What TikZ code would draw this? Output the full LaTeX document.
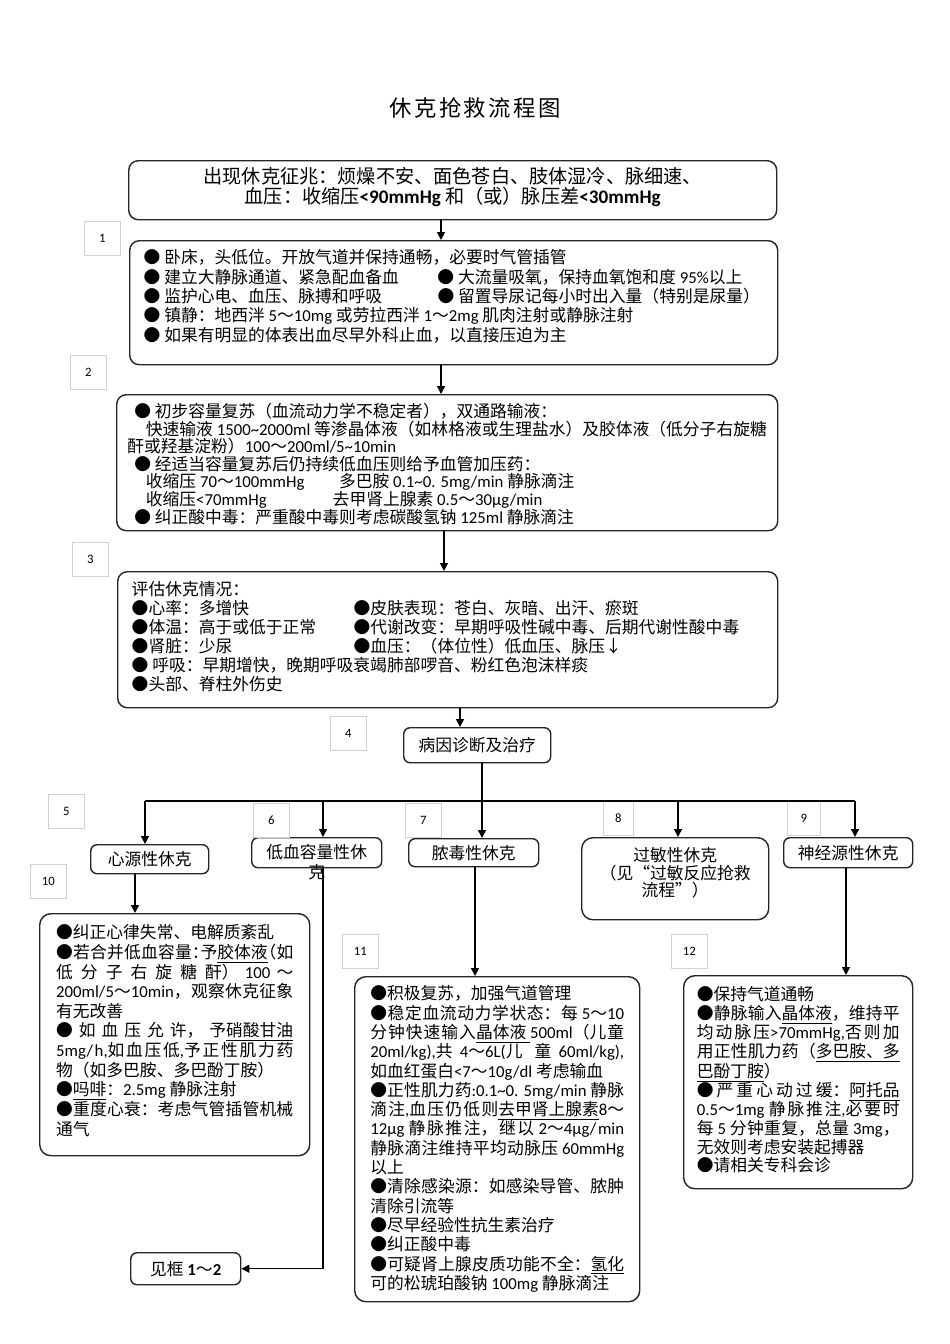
\documentclass[tikz,border=0pt]{standalone}
\usepackage{fontspec}
\setmainfont{Carlito}
\newfontfamily\cjk{Noto Sans CJK SC}
\newfontfamily\titlefont{Noto Sans CJK SC}[LetterSpace=11]
\usetikzlibrary{arrows.meta}
\newdimen\pxu \pxu=0.6263pt
\lineskiplimit=-20pt
\adjdemerits=0

% Chinese characters are set in \cjk, the rest in Carlito
\XeTeXlinebreaklocale "zh"
\XeTeXlinebreakskip=0pt plus 4pt
\newXeTeXintercharclass\CJKcls
\newcount\cjkcnt
\newcommand\cjkrange[2]{\cjkcnt=#1\relax
  \loop\XeTeXcharclass\cjkcnt=\CJKcls
  \ifnum\cjkcnt<#2\relax\advance\cjkcnt by 1 \repeat}
\cjkrange{"2018}{"201D}
\cjkrange{"2190}{"21FF}
\cjkrange{"25A0}{"25FF}
\cjkrange{"3000}{"303F}
\cjkrange{"4E00}{"9FFF}
\cjkrange{"FF00}{"FFEF}
\XeTeXinterchartoks 0 \CJKcls = {\begingroup\cjk}
\XeTeXinterchartoks 4095 \CJKcls = {\begingroup\cjk}
\XeTeXinterchartoks \CJKcls 0 = {\endgroup}
\XeTeXinterchartoks \CJKcls 4095 = {\endgroup}
\XeTeXinterchartokenstate=1

\tikzset{
  tbox/.style n args={4}{draw=black!85, line width=0.9pt, rounded corners=6pt,
    anchor=north west, inner ysep=0pt,
    minimum width=#1*\pxu, minimum height=#2*\pxu,
    text width=#3, inner xsep={(#1*\pxu-(#3))/2},
    text height=#4*\pxu, text depth={(#2-#4)*\pxu}},
  sbox/.style 2 args={draw=black!85, line width=0.9pt, rounded corners=4pt,
    anchor=north west, inner sep=0pt,
    minimum width=#1*\pxu, minimum height=#2*\pxu},
  lbl/.style={draw=black!18, line width=0.5pt, anchor=north west, inner sep=0pt,
    minimum width=36*\pxu, minimum height=34*\pxu, font=\fontsize{8}{9}\selectfont},
  arr/.style={-{Triangle[length=5pt,width=5pt]}, line width=0.9pt},
}

\begin{document}
\begin{tikzpicture}[x=0.6263pt, y=-0.6263pt, font=\fontsize{10.5}{12.1}\selectfont]
\useasboundingbox (0,0) rectangle (950,1344);

\node[font={\XeTeXinterchartokenstate=0 \titlefont\fontsize{14}{16}\selectfont}] (title) at (475,108) {休克抢救流程图};

% main column
\node[tbox={648}{59}{388.3pt}{23}, align=flush center, font=\fontsize{12}{12.5}\selectfont] (warn) at (128,160)
  {出现休克征兆：烦燥不安、面色苍白、肢体湿冷、脉细速、\\
   血压：收缩压\textbf{<90mmHg} 和（或）脉压差\textbf{<30mmHg}};
\node[tbox={648}{124}{388.3pt}{23}, align=flush left] (aid) at (129,240)
  {● 卧床，头低位。开放气道并保持通畅，必要时气管插管\\
   \makebox[184pt][l]{● 建立大静脉通道、紧急配血备血}● 大流量吸氧，保持血氧饱和度 95\%以上\\
   \makebox[184pt][l]{● 监护心电、血压、脉搏和呼吸}● 留置导尿记每小时出入量（特别是尿量）\\
   ● 镇静：地西泮 5～10mg 或劳拉西泮 1～2mg 肌肉注射或静脉注射\\
   ● 如果有明显的体表出血尽早外科止血，以直接压迫为主};
\node[tbox={661}{136}{406pt}{23}, align=flush left, font=\fontsize{10.5}{11}\selectfont] (resus) at (116,394)
  {\hspace*{7pt}● 初步容量复苏（血流动力学不稳定者），双通路输液：\\
   \hspace*{14.3pt}快速输液 1500\textasciitilde2000ml 等渗晶体液（如林格液或生理盐水）及胶体液（低分子右旋糖\\
   \hspace*{2.7pt}酐或羟基淀粉）100～200ml/5\textasciitilde10min\\
   \hspace*{7pt}● 经适当容量复苏后仍持续低血压则给予血管加压药：\\
   \hspace*{14.3pt}\makebox[121pt][l]{收缩压 70～100mmHg}多巴胺 0.1\textasciitilde0. 5mg/min 静脉滴注\\
   \hspace*{14.3pt}\makebox[117pt][l]{收缩压<70mmHg}去甲肾上腺素 0.5～30μg/min\\
   \hspace*{7pt}● 纠正酸中毒：严重酸中毒则考虑碳酸氢钠 125ml 静脉滴注};
\node[tbox={660}{136}{395.8pt}{24}, align=flush left, font=\fontsize{10.5}{11.9}\selectfont] (assess) at (117,571)
  {评估休克情况：\\
   \makebox[139pt][l]{●心率：多增快}●皮肤表现：苍白、灰暗、出汗、瘀斑\\
   \makebox[139pt][l]{●体温：高于或低于正常}●代谢改变：早期呼吸性碱中毒、后期代谢性酸中毒\\
   \makebox[139pt][l]{●肾脏：少尿}●血压：（体位性）低血压、脉压↓\\
   ● 呼吸：早期增快，晚期呼吸衰竭肺部啰音、粉红色泡沫样痰\\
   ●头部、脊柱外伤史};
\node[sbox={147}{35}] (cause) at (403,727) {病因诊断及治疗};

% kinds of shock
\node[sbox={118}{29}] (cardio) at (90,844) {心源性休克};
\node[tbox={130}{30}{75pt}{21}, rounded corners=4pt, align=flush center] (hypo) at (251,837) {低血容量性休\\克};
\node[sbox={130}{28}] (sepsis) at (408,838) {脓毒性休克};
\node[tbox={187}{82}{100pt}{24}, rounded corners=7pt, align=flush center, font=\fontsize{10.5}{9.7}\selectfont] (anaph) at (581,837)
  {过敏性休克\\（见“过敏反应抢救\\流程”）};
\node[sbox={129}{30}] (neuro) at (783,837) {神经源性休克};

% treatment
\node[tbox={270}{242}{148.5pt}{25}, rounded corners=7pt, align=justify, font=\fontsize{10.5}{12.3}\selectfont] (cardiotx) at (39,913)
  {●纠正心律失常、电解质紊乱\\
   ●若合并低血容量：\kern-5pt 予\underline{胶体液}\kern-5pt（如\linebreak
   低分子右旋糖酐） 100 ～\linebreak
   200ml/5～10min，观察休克征象\linebreak
   有无改善\\
   ●如血压允许，予\underline{硝酸甘油}\linebreak
   5mg/h,如血压低,予正性肌力药\linebreak
   物（如多巴胺、多巴酚丁胺）\\
   ●\underline{吗啡}：2.5mg 静脉注射\\
   ●重度心衰：考虑气管插管机械\linebreak
   通气};
\node[tbox={285}{325}{159pt}{23}, rounded corners=7pt, align=justify] (sepsistx) at (354,976)
  {●积极复苏，加强气道管理\\
   ●稳定血流动力学状态：每 5～10\linebreak
   分钟快速输入\underline{晶体液 }500ml（儿童\linebreak
   \mbox{20ml/kg}),共 4～6L(儿童 \mbox{60ml/kg}),\linebreak
   如血红蛋白<7～10g/dl 考虑输血\\
   ●正性肌力药:0.1\textasciitilde0. 5mg/min 静脉\linebreak
   滴注,血压仍低则\underline{去甲肾上腺素}8～\linebreak
   12μg 静脉推注，继以 2～4μg/min\linebreak
   静脉滴注维持平均动脉压 60mmHg\linebreak
   以上\\
   ●清除感染源：如感染导管、脓肿\linebreak
   清除引流等\\
   ●尽早经验性抗生素治疗\\
   ●纠正酸中毒\\
   ●可疑肾上腺皮质功能不全：\underline{氢化}\linebreak
   可的松琥珀酸钠 100mg 静脉滴注};
\node[tbox={229}{213}{127pt}{25}, rounded corners=7pt, align=justify, font=\fontsize{10.5}{11.8}\selectfont] (neurotx) at (683,975)
  {●保持气道通畅\\
   ●静脉输入\underline{晶体液}，维持平\linebreak
   均动脉压>70mmHg,否则加\linebreak
   用正性肌力药（\underline{多巴胺、多}\linebreak
   \underline{巴酚丁胺}）\\
   ●严重心动过缓：\underline{阿托品}\linebreak
   0.5～1mg 静脉推注,必要时\linebreak
   每 5 分钟重复，总量 3mg，\linebreak
   无效则考虑安装起搏器\\
   ●请相关专科会诊};
\node[sbox={110}{32}] (seeref) at (130,1252) {见框 \textbf{1}～\textbf{2}};

% step numbers
\node[lbl] (n1) at (84,221) {1};
\node[lbl] (n2) at (70,355) {2};
\node[lbl] (n3) at (72,542) {3};
\node[lbl] (n4) at (330,716) {4};
\node[lbl] (n5) at (48,794) {5};
\node[lbl] (n6) at (253,803) {6};
\node[lbl] (n7) at (405,803) {7};
\node[lbl, minimum width=30*\pxu] (n8) at (603,801) {8};
\node[lbl, minimum width=33*\pxu] (n9) at (787,801) {9};
\node[lbl] (n10) at (30,864) {10};
\node[lbl] (n11) at (342,934) {11};
\node[lbl] (n12) at (671,934) {12};

% connectors
\coordinate (c1) at (441,0);
\coordinate (c2) at (444,0);
\coordinate (c3) at (460,0);
\coordinate (b5) at (145,801);
\coordinate (b6) at (323,801);
\coordinate (b7) at (482,801);
\coordinate (b8) at (678,801);
\coordinate (b9) at (855,801);
\coordinate (d10) at (135,0);
\coordinate (d11) at (475,0);
\coordinate (d12) at (846,0);

\draw[arr] (warn.south -| c1) -- (aid.north -| c1);
\draw[arr] (aid.south -| c1) -- (resus.north -| c1);
\draw[arr] (resus.south -| c2) -- (assess.north -| c2);
\draw[arr] (assess.south -| c3) -- (cause.north -| c3);
\draw[arr] (cause.south -| b7) -- (sepsis.north -| b7);
\draw[line width=0.9pt] (b5) -- (b9);
\draw[arr] (b5) -- (cardio.north -| b5);
\draw[arr] (b6) -- (hypo.north -| b6);
\draw[arr] (b8) -- (anaph.north -| b8);
\draw[arr] (b9) -- (neuro.north -| b9);
\draw[arr] (cardio.south -| d10) -- (cardiotx.north -| d10);
\draw[arr] (hypo.south -| b6) |- (seeref.east);
\draw[arr] (sepsis.south -| d11) -- (sepsistx.north -| d11);
\draw[arr] (neuro.south -| d12) -- (neurotx.north -| d12);

\end{tikzpicture}
\end{document}
